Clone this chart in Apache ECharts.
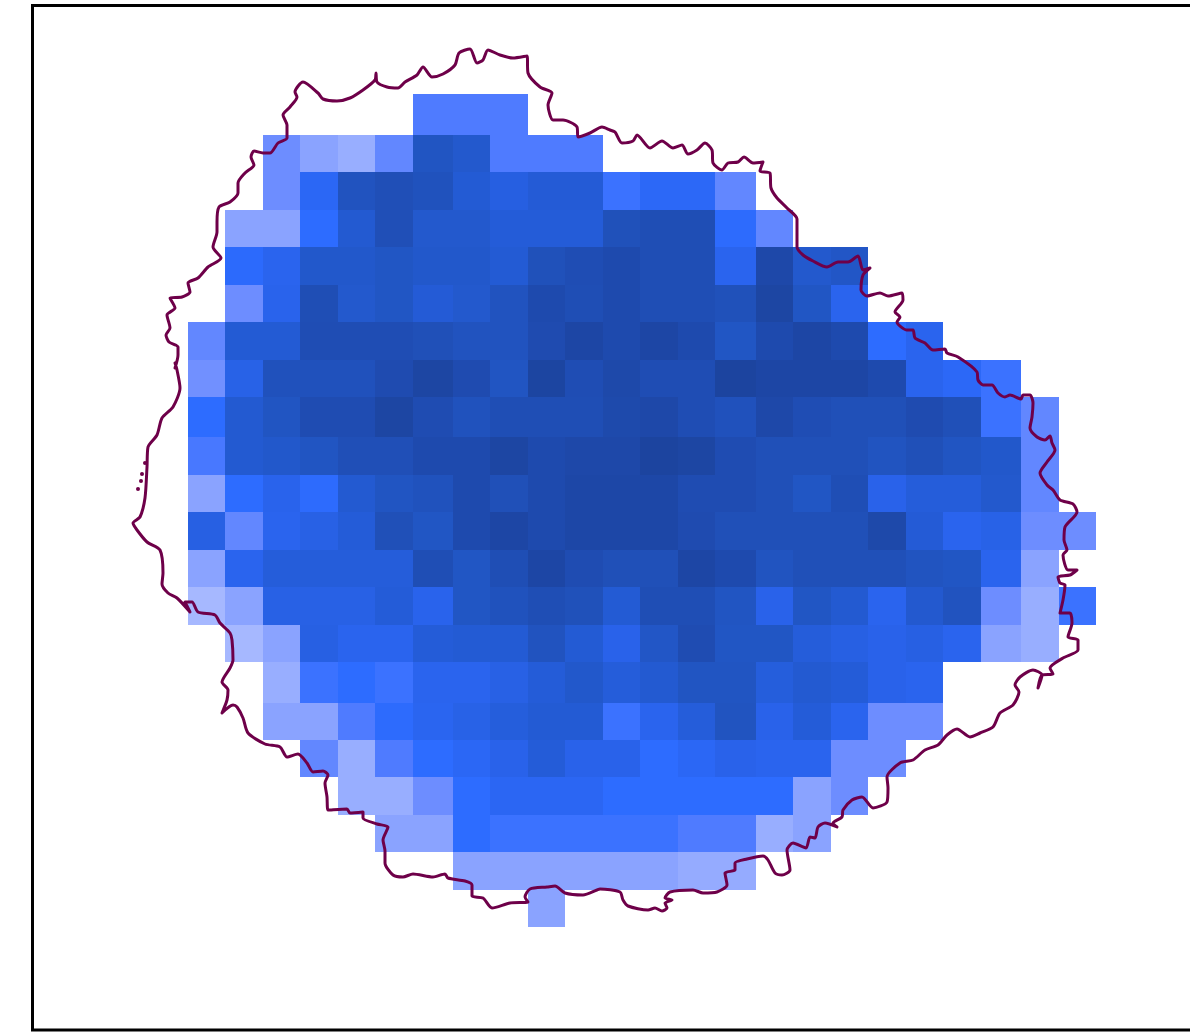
<!DOCTYPE html>
<html><head><meta charset="utf-8">
<style>html,body{margin:0;padding:0;background:#fff}#c{width:1190px;height:1034px}</style>
<script src="https://cdn.jsdelivr.net/npm/echarts@6/dist/echarts.min.js"></script>
</head><body><div id="c"></div>
<script>
// Cell edges along each axis (map units, irregular like the source raster)
const xEdges = [188,225,263,300,338,375,413,453,490,528,565,603,640,678,715,756,793,831,868,906,943,981,1021,1059,1096];
const yEdges = [94,135,172,210,247,285,322,360,397,437,475,512,550,587,625,662,703,740,777,815,852,890,927];
const _ = null;
const cellValues = [
 [_,_,_,_,_,_,3,3,3,_,_,_,_,_,_,_,_,_,_,_,_,_,_,_],
 [_,_,2.2,1,0.5,2.5,7,6.5,3,3,3,_,_,_,_,_,_,_,_,_,_,_,_,_],
 [_,_,2.2,4.6,7.2,7.7,7.3,6.2,5.6,6.1,6.1,3.6,4.5,4.5,2.5,_,_,_,_,_,_,_,_,_],
 [_,1,1,4,6.3,7.7,6.5,6.5,6,6,6,7.5,7.8,7.8,4.1,2.5,_,_,_,_,_,_,_,_],
 [_,4.2,5,6.6,6.6,6.9,6.6,6.6,6.2,7.5,7.9,8.2,7.8,7.8,5,8.5,6.5,6.8,_,_,_,_,_,_],
 [_,2.2,5.1,7.8,6.5,6.9,6.1,6.5,7.2,8.2,7.8,8.2,7.8,7.8,7.5,8.8,6.9,5,_,_,_,_,_,_],
 [2.5,6.2,6.2,7.9,7.9,7.9,7.6,7.2,7.2,8.1,8.7,8.2,8.7,8.2,6.9,8.2,8.7,8.2,4,5,_,_,_,_],
 [2.1,5.3,7.4,7.4,7.4,8.1,8.8,8.1,7,8.9,7.9,8.4,7.9,7.9,9.1,8.7,8.7,8.7,8.2,5,4.5,3.6,_,_],
 [4,6.3,7,8,8,8.8,8,7.3,7.8,7.8,7.8,8.3,8.5,7.9,7.4,8.5,7.9,7.6,7.6,8.1,7.6,3.6,2.5,_],
 [3.2,6.3,6.6,7,7.7,7.7,8.2,8.2,8.8,8.2,8.5,8.5,9.2,8.8,8,7.6,7.6,7.6,7.1,7.6,7,6.6,2.5,_],
 [1,4,5.1,4.1,6.3,7,7.3,8.2,7.6,8.2,8.6,8.6,8.6,8,8,7.6,6.9,7.8,5.2,5.9,5.9,6.5,2.5,_],
 [5.5,2.5,5,5.4,6,7.6,6.9,8.2,8.7,8.2,8.6,8.6,8.6,8.1,7.6,7.6,7.6,7.6,8.4,6.1,5,5.3,2.2,2.2],
 [1,5,5.9,5.9,5.9,5.9,7.8,6.9,7.8,8.7,8,7.6,7.6,8.7,8.2,7.1,7.6,7.6,7.6,7.1,6.9,5,1,_],
 [0,1,5.4,5.4,5.4,6,5.1,6.9,7.3,7.8,7.5,6.2,7.8,7.8,7,5.2,6.9,6.3,5,6.4,7.2,2.2,0.5,3.6],
 [_,0,1,5.5,5,5,6,6.2,6.2,7.2,6.2,5.2,6.8,8,6.9,6.9,5.9,5.5,5.2,5.5,5,1,0.5,_],
 [_,_,0.5,3.6,4,3.6,5,5,5.4,6,6.6,5.9,6.3,7,7,5.8,6.3,6,5.2,5,_,_,_,_],
 [_,_,1,1,3,4.1,4.9,5.3,5.8,6.2,6.2,3.6,5,5.9,7.1,5.2,6,5,2.2,2.2,_,_,_,_],
 [_,_,_,2.5,0.5,3,4,4.6,5.2,6,5.2,5.2,4,4.6,5.2,5,5,2.2,2.2,_,_,_,_,_],
 [_,_,_,_,0.5,0.5,2.2,4,4.7,4.7,4.7,4,4,4,4,4,1,2.2,_,_,_,_,_,_],
 [_,_,_,_,_,1,1,4,3.6,3.6,3.6,3.6,3.6,3,3,0.5,1,_,_,_,_,_,_,_],
 [_,_,_,_,_,_,_,1,1,1,1,1,1,0.6,0.6,_,_,_,_,_,_,_,_,_],
 [_,_,_,_,_,_,_,_,_,1,_,_,_,_,_,_,_,_,_,_,_,_,_,_]
];
const rampColors = ['#a6b8ff','#8aa3ff','#7592ff','#4f7bff','#2d6cff','#2a64ee','#245cd8','#2155c2','#1f4cb2','#1c449f'];
const outlinePoints = [
[175,368],[178,355],[178,347],[169,342],[166,335],[170,328],[167,315],[175,308],[170,298],[182,297],[190,292],[188,283],[198,278],[208,267],[221,258],[213,247],[217,232],[217,222],[219,207],[230,202],[238,193],[238,183],[245,173],[254,165],[251,157],[254,151],[263,153],[270,153],[278,143],[287,138],[287,125],[283,115],[290,107],[297,97],[295,92],[303,82],[318,93],[323,99],[337,101],[350,98],[363,90],[375,80],[376,73],[377,82],[387,87],[398,88],[405,82],[417,75],[423,67],[432,77],[443,74],[455,65],[459,53],[470,49],[477,63],[483,60],[488,50],[500,55],[513,58],[527,56],[528,73],[540,87],[552,93],[548,105],[553,120],[563,120],[577,127],[578,137],[590,133],[602,127],[610,130],
[615,132],[622,143],[633,141],[637,135],[650,148],[662,141],[673,148],[682,145],[688,154],[697,150],[705,143],[712,150],[713,163],[722,170],[728,163],[738,162],[744,157],[753,163],[763,162],[760,171],[770,173],[771,188],[777,198],[787,208],[797,219],[797,247],[803,255],[813,261],[827,267],[838,262],[848,262],[858,256],[863,270],[870,268],[863,275],[861,290],[867,296],[880,293],[888,296],[902,293],[903,300],[895,312],[900,317],[897,322],[907,330],[913,330],[915,338],[925,343],[933,350],[945,349],[947,353],[958,357],[977,372],[978,380],[983,385],[992,385],[998,393],[1005,397],[1010,395],[1021,399],[1023,395],[1030,395],[1033,403],[1032,417],[1030,428],[1037,437],[1045,440],[1050,436],[1052,443],[1055,450],
[1047,462],[1040,473],[1047,485],[1053,490],[1060,500],[1073,504],[1077,512],[1065,527],[1064,540],[1067,550],[1063,555],[1068,570],[1077,570],[1070,575],[1058,577],[1060,583],[1065,585],[1063,600],[1060,613],[1070,613],[1072,623],[1068,637],[1078,640],[1078,650],[1063,658],[1050,668],[1053,674],[1042,675],[1038,688],[1042,675],[1033,670],[1020,677],[1015,685],[1019,692],[1013,705],[1000,713],
[993,727],[980,733],[970,737],[957,729],[947,735],[938,745],[925,750],[913,760],[900,763],[887,777],[888,788],[887,802],[873,808],[862,797],[852,800],[843,810],[842,817],[833,823],[837,827],[825,823],[818,827],[815,838],[810,837],[806,848],[793,843],[787,850],[790,870],[782,875],[775,873],[768,860],[763,856],[747,859],[735,863],[735,870],[725,873],[727,885],[717,892],[703,893],[693,890],[670,892],[665,898],[672,900],[665,903],[667,908],[662,911],[655,908],[648,910],[628,906],[623,900],[620,892],[600,889],
[597,890],[583,895],[565,893],[555,886],[547,887],[530,889],[525,897],[528,902],[510,903],[492,908],[483,898],[472,896],[472,885],[465,881],[448,878],[445,874],[433,877],[413,874],[403,877],[393,875],[385,863],[385,851],[383,840],[388,827],[377,824],[363,818],[363,812],[350,813],[347,809],[328,810],[327,797],[325,783],[328,775],[323,771],[313,772],[307,763],[298,754],[287,757],[280,747],[265,744],[248,733],[243,718],[237,707],[233,705],[222,713],[227,700],[228,690],[222,682],[230,668],[233,660],[232,640],
[230,633],[220,623],[215,615],[198,612],[192,602],[185,602],[190,612],[177,598],[168,593],[162,584],[163,573],[160,550],[147,542],[137,530],[133,523],[140,517],[145,498],[147,467],[148,447],[157,435],[162,418],[173,407],[180,388],[177,370],[175,363]
];
const isletPoints = [[142,474],[141,481],[138,489],[145,463]];

const cells = [];
cellValues.forEach((row, r) => row.forEach((v, c) => {
  if (v !== null) cells.push([xEdges[c], yEdges[r], v, xEdges[c + 1], yEdges[r + 1]]);
}));

const chart = echarts.init(document.getElementById('c'), null, {renderer: 'canvas'});
chart.setOption({
  animation: false,
  backgroundColor: '#fff',
  grid: {left: 32.5, top: 5.5, width: 1172.5, height: 1024.5, outerBoundsMode: 'none', show: true, borderColor: '#000', borderWidth: 3, backgroundColor: 'transparent'},
  xAxis: {type: 'value', min: 32.5, max: 1205, show: false},
  yAxis: {type: 'value', min: 5.5, max: 1030, inverse: true, show: false},
  visualMap: {show: false, seriesIndex: 0, dimension: 2, min: 0, max: 9, inRange: {color: rampColors}},
  series: [
    {type: 'custom', data: cells, silent: true, z: 1,
     encode: {x: 0, y: 1},
     renderItem: function (params, api) {
       const a = api.coord([api.value(0), api.value(1)]);
       const b = api.coord([api.value(3), api.value(4)]);
       return {type: 'rect', shape: {x: a[0], y: a[1], width: b[0] - a[0], height: b[1] - a[1]},
               style: {fill: api.visual('color'), stroke: null}};
     }},
    {type: 'line', data: outlinePoints, showSymbol: false, symbol: 'none', smooth: 0.25, silent: true, z: 3,
     lineStyle: {color: '#6e0049', width: 3, join: 'round', cap: 'round'}},
    {type: 'scatter', data: isletPoints, symbol: 'circle', symbolSize: 4, silent: true, z: 3,
     itemStyle: {color: '#6e0049', opacity: 1}}
  ]
});
</script></body></html>
